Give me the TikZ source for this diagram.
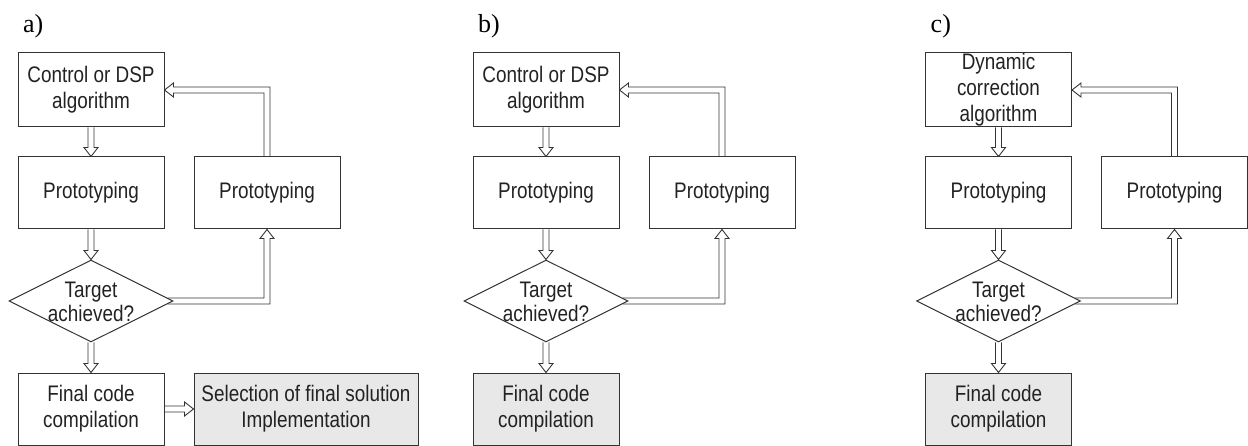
\documentclass[tikz,border=0pt]{standalone}
\usepackage{fontspec}
\setmainfont{Liberation Sans}[FakeStretch=0.84]
\newfontfamily\lblfont{Liberation Serif}
\usetikzlibrary{shapes.geometric,calc}
\definecolor{ln}{HTML}{333333}
\definecolor{gfill}{HTML}{E8E8E8}
\definecolor{txt}{HTML}{222222}
\newcommand{\downarr}[2]{\draw[hol] ($(#1)+(-3,0)$) -- ($(#2)+(-3,-9)$) -- ($(#2)+(-7,-9)$) -- (#2) -- ($(#2)+(7,-9)$) -- ($(#2)+(3,-9)$) -- ($(#1)+(3,0)$);}
\newcommand{\mypanel}[5]{%
\begin{scope}[xshift=#1pt]
 \node[lbl] (#2lab) at (23,33) {#3};
 \node[box, minimum height=74pt] (#2T) at (91,90) {#4};
 \node[box] (#2P1) at (91,193) {Prototyping};
 \node[box] (#2P2) at (267,193) {Prototyping};
 \node[dia, label={[align=center, text=txt, font=\fontsize{22.5}{24}\selectfont, yshift=-1pt]center:Target\\achieved?}] (#2D) at (91,301) {};
 \node[#5] (#2F) at (91,409) {Final code\\compilation};
 \downarr{#2T.south}{#2P1.north}
 \downarr{#2P1.south}{#2D.north}
 \downarr{#2D.south}{#2F.north}
 \draw[hol] ($(#2P2.north)+(3,0)$) -- ($(#2P2.north |- #2T.east)+(3,-3)$) -- ($(#2T.east)+(9,-3)$) -- ($(#2T.east)+(9,-7)$) -- (#2T.east) -- ($(#2T.east)+(9,7)$) -- ($(#2T.east)+(9,3)$) -- ($(#2P2.north |- #2T.east)+(-3,3)$) -- ($(#2P2.north)+(-3,0)$);
 \draw[hol] ($(#2D.east)+(-6,-3)$) -- ($(#2D.east -| #2P2.south)+(-3,-3)$) -- ($(#2P2.south)+(-3,9)$) -- ($(#2P2.south)+(-7,9)$) -- (#2P2.south) -- ($(#2P2.south)+(7,9)$) -- ($(#2P2.south)+(3,9)$) -- ($(#2D.east -| #2P2.south)+(3,3)$) -- ($(#2D.east)+(-6,3)$);
\end{scope}}
\begin{document}
\begin{tikzpicture}[x=1pt,y=-1pt,
  box/.style={draw=ln, line width=1pt, minimum width=146pt, minimum height=72pt, inner sep=0pt, align=center, text=txt, font=\fontsize{22.5}{26}\selectfont},
  gbox/.style={box, fill=gfill},
  dia/.style={draw=ln, line width=1pt, diamond, minimum width=164pt, minimum height=82pt, inner sep=0pt},
  hol/.style={draw=ln, line width=0.9pt, line join=miter},
  lbl/.style={font=\lblfont\fontsize{26}{28}\selectfont, anchor=base west, inner sep=0pt, text=black}]
\useasboundingbox (0,0) rectangle (1248,446);
\mypanel{0}{a}{a)}{Control or DSP\\algorithm}{box}
\node[gbox, minimum width=224pt] (aS) at (306,409) {Selection of final solution\\Implementation};
\draw[hol] ($(aF.east)+(0,-3)$) -- ($(aS.west)+(-9,-3)$) -- ($(aS.west)+(-9,-7)$) -- (aS.west) -- ($(aS.west)+(-9,7)$) -- ($(aS.west)+(-9,3)$) -- ($(aF.east)+(0,3)$);
\mypanel{455}{b}{b)}{Control or DSP\\algorithm}{gbox}
\mypanel{907.5}{c}{c)}{\fontsize{22.5}{20}\selectfont Dynamic\\correction\\algorithm}{gbox}
\end{tikzpicture}
\end{document}
